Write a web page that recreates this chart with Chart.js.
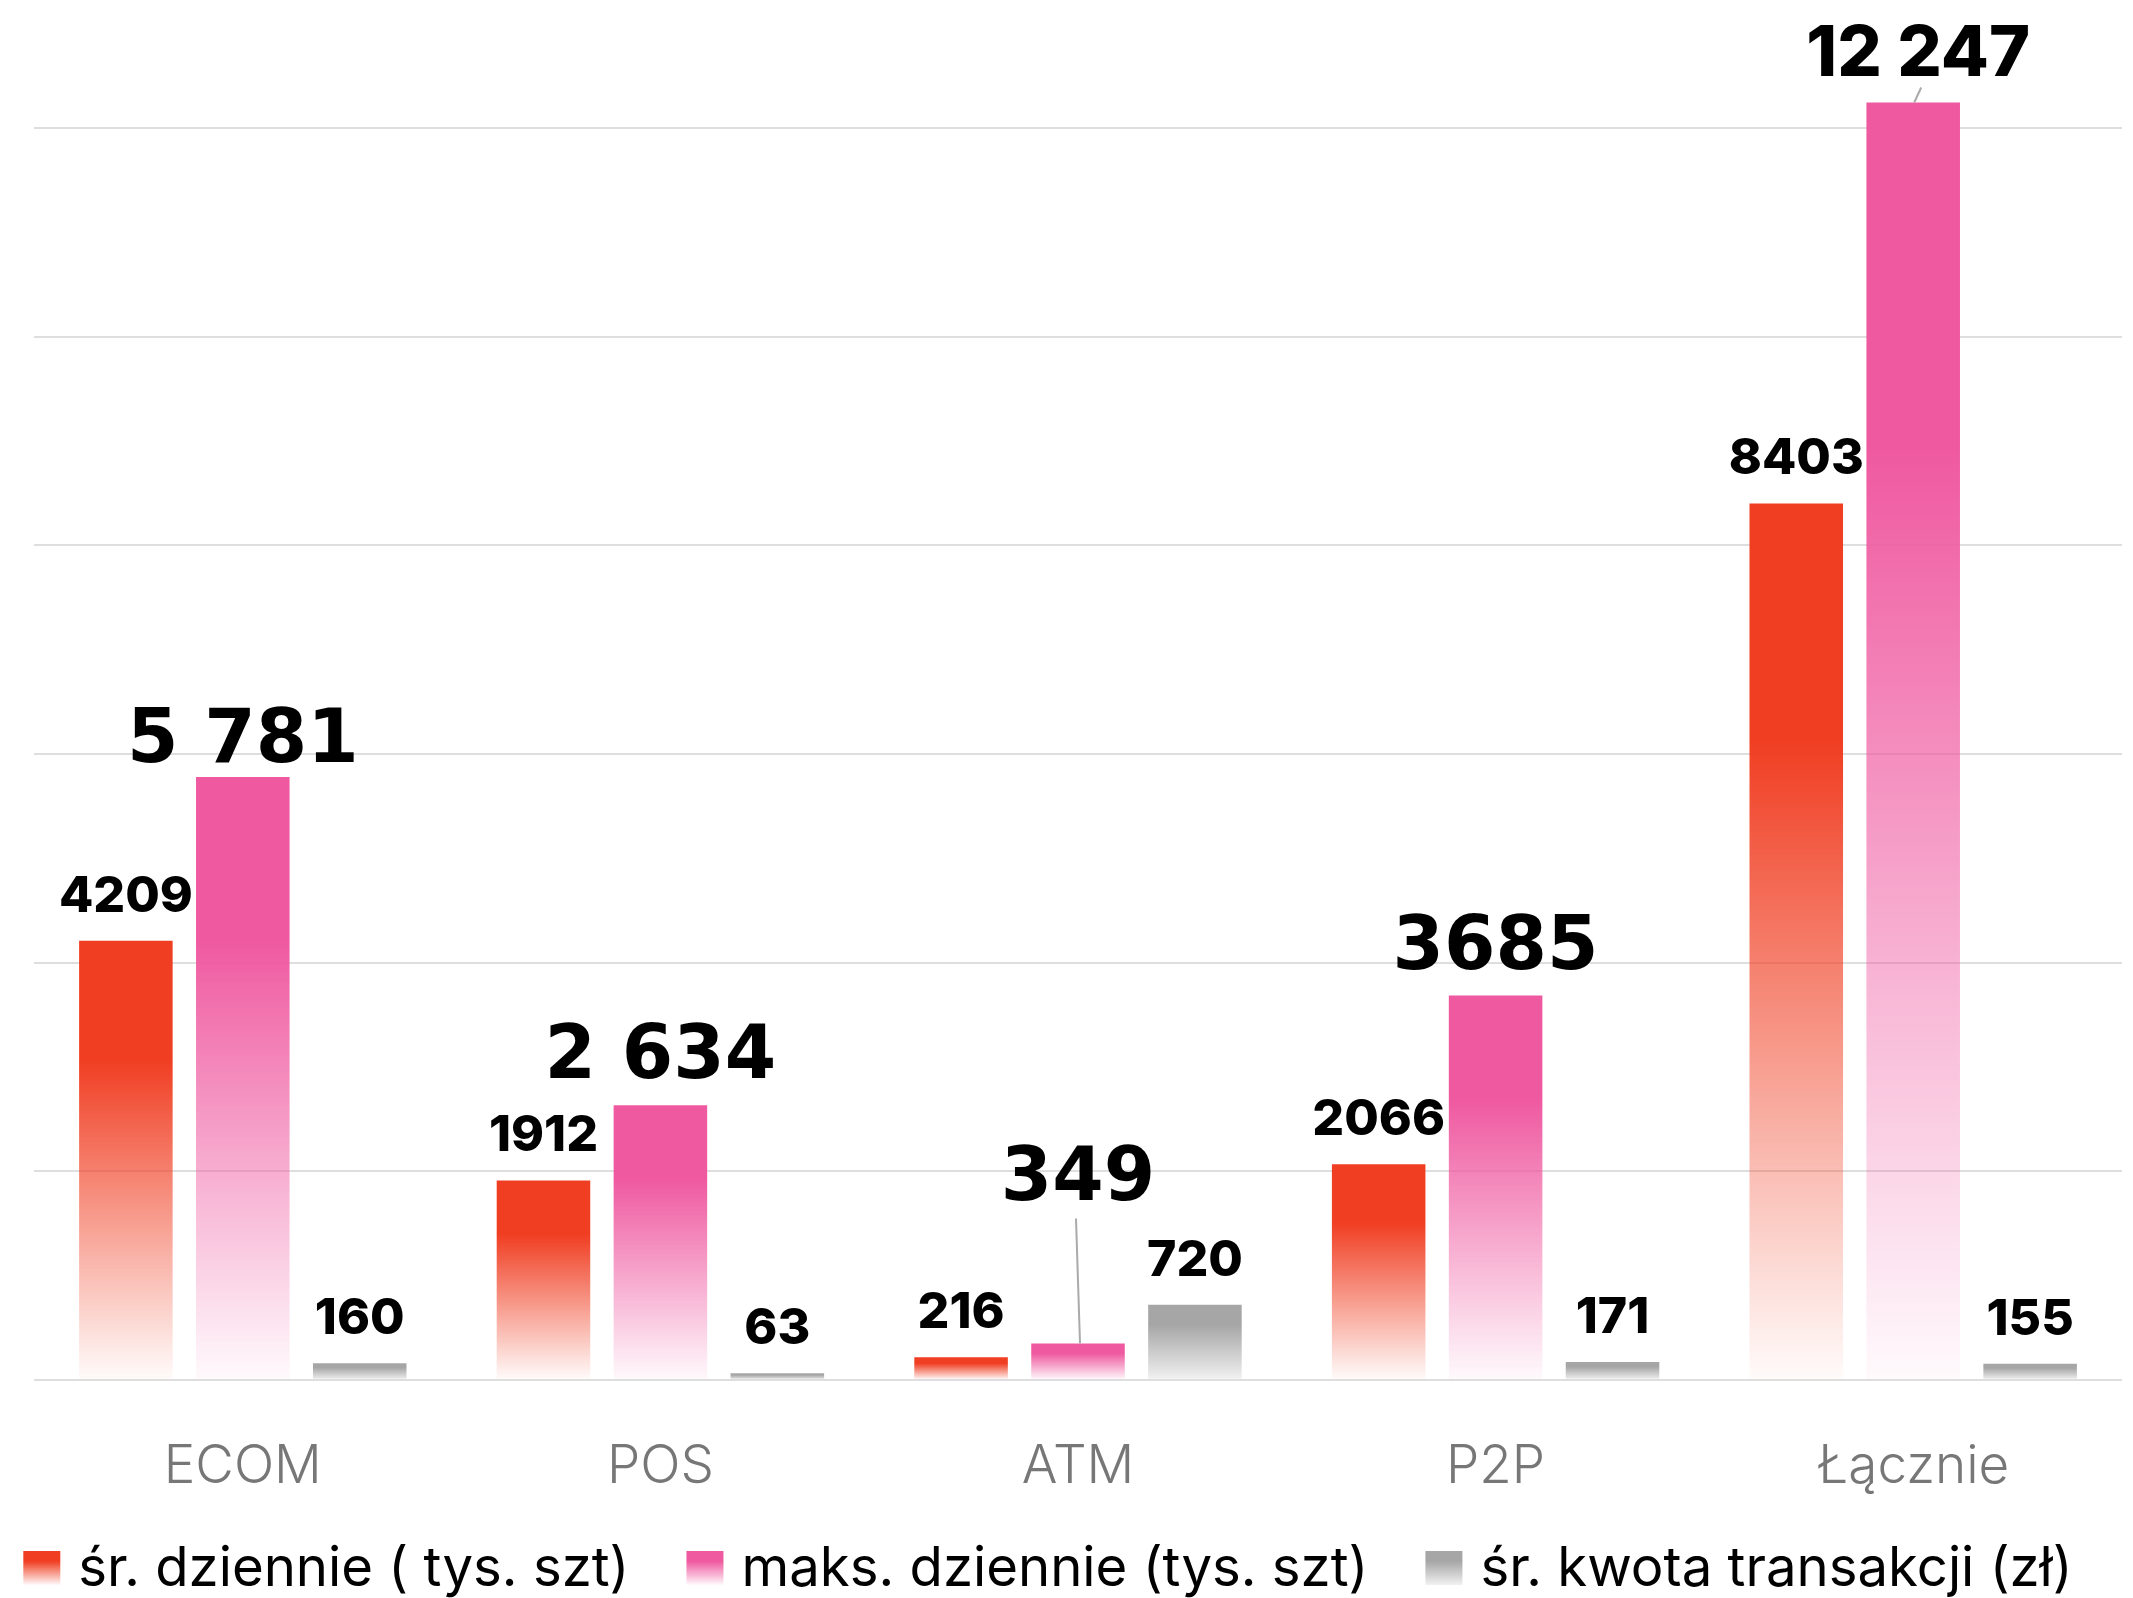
<!DOCTYPE html>
<html>
<head>
<meta charset="utf-8">
<script src="https://cdn.jsdelivr.net/npm/chart.js@4.4.1/dist/chart.umd.min.js"></script>
<style>
  html, body { margin: 0; padding: 0; background: #fff; }
  #wrap { width: 2133px; height: 1598px; }
</style>
</head>
<body>
<div id="wrap"><canvas id="myBarChart" width="2133" height="1598"></canvas></div>
<script>
const categories = ['ECOM', 'POS', 'ATM', 'P2P', 'Łącznie'];
const seriesNames = ['śr. dziennie ( tys. szt)', 'maks. dziennie (tys. szt)', 'śr. kwota transakcji (zł)'];
const avgDaily = [4209, 1912, 216, 2066, 8403];
const maxDaily = [5781, 2634, 349, 3685, 12247];
const avgAmount = [160, 63, 720, 171, 155];
const avgDailyText = ['4209', '1912', '216', '2066', '8403'];
const maxDailyText = ['5 781', '2 634', '349', '3685', '12 247'];
const avgAmountText = ['160', '63', '720', '171', '155'];
const gridValues = [0, 2000, 4000, 6000, 8000, 10000, 12000];

const FONT = 'Inter, "Open Sans", sans-serif';
const BIG_FONT = '"DejaVu Sans", sans-serif';

// colour -> [solid, faded]
const palette = [
    ['rgba(240, 62, 34, 1)', 'rgba(240, 62, 34, 0.02)'],
    ['rgba(239, 89, 160, 1)', 'rgba(239, 89, 160, 0.03)'],
    ['rgba(166, 166, 166, 1)', 'rgba(166, 166, 166, 0.15)']
];

function fade(c, i, top, bottom, solidPart) {
    const g = c.createLinearGradient(0, top, 0, bottom);
    g.addColorStop(0, palette[i][0]);
    g.addColorStop(solidPart, palette[i][0]);
    g.addColorStop(1, palette[i][1]);
    return g;
}

function barGradient(i) {
    return (ctx) => {
        const chart = ctx.chart;
        if (!chart.chartArea || ctx.type !== 'data') return palette[i][0];
        const y = chart.scales.y;
        const top = y.getPixelForValue(ctx.raw);
        const bottom = y.getPixelForValue(0);
        if (bottom - top < 1) return palette[i][0];
        return fade(chart.ctx, i, top, bottom, 0.27);
    };
}

// value labels above bars, pink ones bigger, some lifted with a leader line
const valueLabels = {
    id: 'valueLabels',
    afterDatasetsDraw(chart) {
        const c = chart.ctx;
        const texts = [avgDailyText, maxDailyText, avgAmountText];
        const lift = [15, 27, 143, 27, 27];
        c.save();
        c.textAlign = 'center';
        c.textBaseline = 'alphabetic';
        c.fillStyle = '#000';
        chart.data.datasets.forEach((ds, di) => {
            const meta = chart.getDatasetMeta(di);
            meta.data.forEach((bar, idx) => {
                const big = di === 1;
                if (!big) c.font = '800 50px ' + FONT;
                else if (idx === 4) c.font = '800 70px ' + FONT;
                else c.font = 'bold 74px ' + BIG_FONT;
                const off = big ? lift[idx] : 29;
                const by = bar.y - off;
                c.strokeStyle = '#aaaaaa';
                c.lineWidth = 2;
                if (big && idx === 2) {
                    c.beginPath();
                    c.moveTo(bar.x - 2, by + 18);
                    c.lineTo(bar.x + 2, bar.y);
                    c.stroke();
                }
                if (big && idx === 4) {
                    c.beginPath();
                    c.moveTo(bar.x + 8, by + 12);
                    c.lineTo(bar.x + 1, bar.y);
                    c.stroke();
                }
                c.fillText(texts[di][idx], bar.x + (big && idx === 4 ? 5 : 0), by);
            });
        });
        c.restore();
    }
};

// legend drawn by hand so the spacing can follow the original
const bottomLegend = {
    id: 'bottomLegend',
    afterDraw(chart) {
        const c = chart.ctx;
        const box = 37, gap = 18, itemGap = 57, cy = 1568;
        c.save();
        c.font = '400 54.5px ' + FONT;
        c.textBaseline = 'middle';
        c.textAlign = 'left';
        const widths = chart.data.datasets.map(ds => c.measureText(ds.label).width);
        const total = widths.reduce((a, w) => a + box + gap + w, 0) + itemGap * (widths.length - 1);
        let x = 1048 - total / 2;
        chart.data.datasets.forEach((ds, i) => {
            c.fillStyle = fade(c, i, cy - 17, cy + 17, 0.3);
            c.fillRect(x, cy - 17, box, 34);
            c.fillStyle = '#000';
            c.fillText(ds.label, x + box + gap, cy + 2);
            x += box + gap + widths[i] + itemGap;
        });
        c.restore();
    }
};

window.addEventListener('DOMContentLoaded', () => {
    const ctx = document.getElementById('myBarChart').getContext('2d');
    new Chart(ctx, {
        type: 'bar',
        data: {
            labels: categories,
            datasets: [
                { label: seriesNames[0], data: avgDaily, backgroundColor: barGradient(0) },
                { label: seriesNames[1], data: maxDaily, backgroundColor: barGradient(1) },
                { label: seriesNames[2], data: avgAmount, backgroundColor: barGradient(2) }
            ]
        },
        options: {
            responsive: false,
            animation: false,
            datasets: {
                bar: { categoryPercentage: 0.84, barPercentage: 0.8, borderWidth: 0 }
            },
            layout: { padding: { top: 24, left: 34, right: 11, bottom: 44 } },
            scales: {
                x: {
                    grid: { display: false, drawTicks: false },
                    border: { display: false },
                    ticks: {
                        color: '#777777',
                        padding: 68,
                        font: { family: FONT, size: 53, weight: 300, lineHeight: 0.72 }
                    }
                },
                y: {
                    min: 0,
                    max: 13000,
                    border: { display: false },
                    afterBuildTicks: (scale) => {
                        scale.ticks = gridValues.map(v => ({ value: v }));
                    },
                    grid: { drawTicks: false, lineWidth: 2, color: '#dedede' },
                    ticks: { display: false }
                }
            },
            plugins: {
                legend: { display: false },
                tooltip: { enabled: false }
            }
        },
        plugins: [valueLabels, bottomLegend]
    });
});
</script>
</body>
</html>
